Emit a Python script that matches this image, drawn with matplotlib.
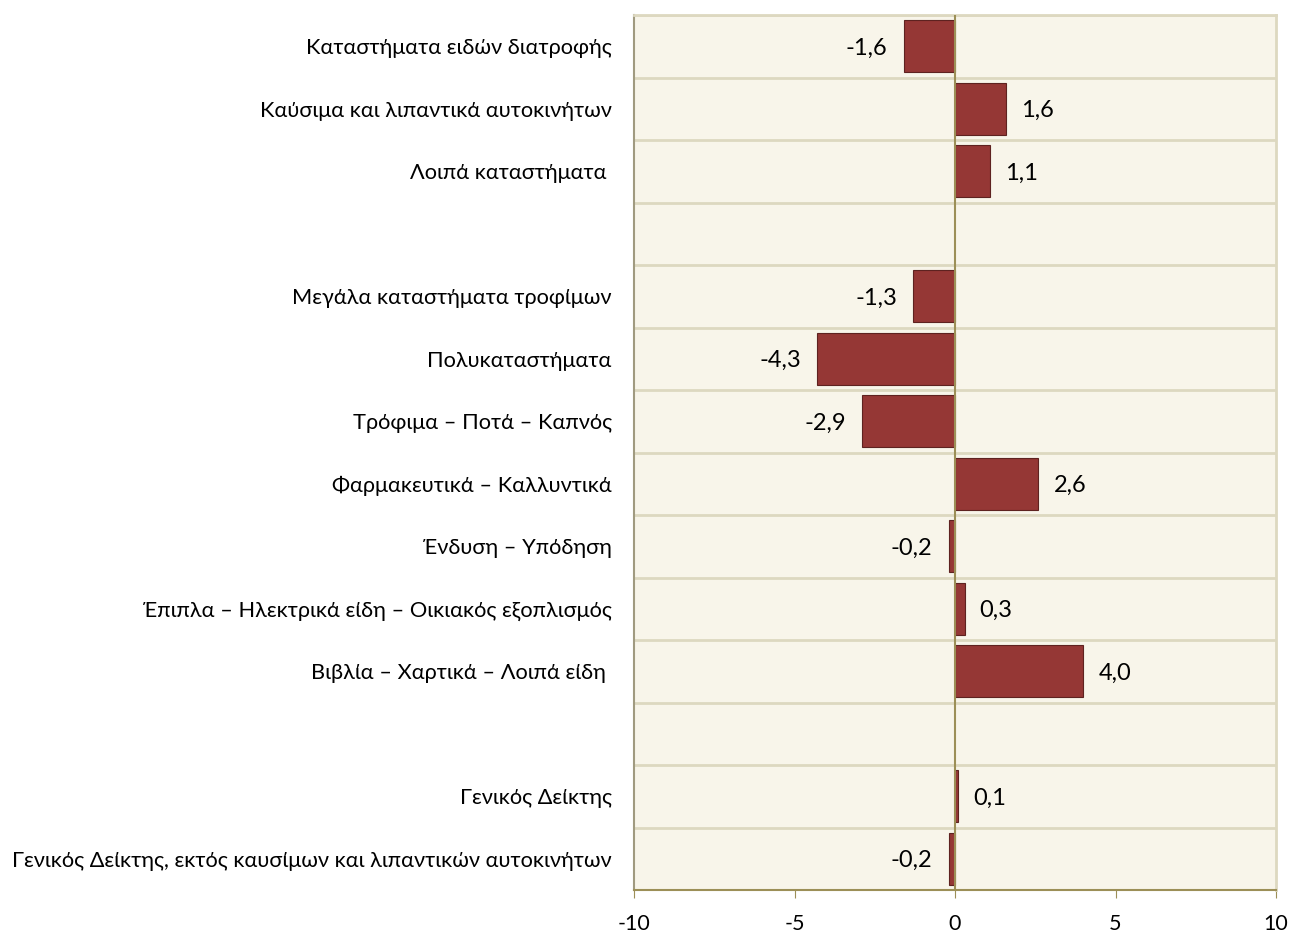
import numpy as np
import matplotlib
matplotlib.use("Agg")
from matplotlib import pyplot as plt

# categories top to bottom (empty strings are spacer rows)
categories = [
    "Καταστήματα ειδών διατροφής",
    "Καύσιμα και λιπαντικά αυτοκινήτων",
    "Λοιπά καταστήματα ",
    "",
    "Μεγάλα καταστήματα τροφίμων",
    "Πολυκαταστήματα",
    "Τρόφιμα – Ποτά – Καπνός",
    "Φαρμακευτικά – Καλλυντικά",
    "Ένδυση – Υπόδηση",
    "Έπιπλα – Ηλεκτρικά είδη – Οικιακός εξοπλισμός",
    "Βιβλία – Χαρτικά – Λοιπά είδη ",
    "",
    "Γενικός Δείκτης",
    "Γενικός Δείκτης, εκτός καυσίμων και λιπαντικών αυτοκινήτων",
]
values = [-1.6, 1.6, 1.1, None, -1.3, -4.3, -2.9, 2.6, -0.2, 0.3, 4.0, None, 0.1, -0.2]
xticks = [-10, -5, 0, 5, 10]

plt.rcParams['font.family'] = ['Lato', 'DejaVu Sans']

fig = plt.figure(figsize=(12.9, 9.36), dpi=100)
ax = fig.add_axes([634/1290, 1 - 890/936, (1276 - 634)/1290, (890 - 15)/936])
ax.set_facecolor('#F8F5EA')

y = np.arange(len(categories))
vals = np.array([v if v is not None else 0 for v in values])
mask = np.array([v is not None for v in values])

ax.barh(y[mask], vals[mask], height=0.83, color='#953735', edgecolor='#5E2220',
        linewidth=0.8, zorder=3)

for yi, v in zip(y[mask], vals[mask]):
    txt = ("%.1f" % v).replace('.', ',')
    if v < 0:
        ax.text(v - 0.5, yi + 0.03, txt, ha='right', va='center', fontsize=17, color='black', zorder=4)
    else:
        ax.text(v + 0.47, yi + 0.03, txt, ha='left', va='center', fontsize=17, color='black', zorder=4)

ax.set_xlim(-10, 10)
ax.set_ylim(len(categories) - 0.5, -0.5)

# horizontal separators between rows
for b in np.arange(-0.5, len(categories), 1.0):
    ax.axhline(b, color='#DDD8C0', linewidth=2, zorder=1)

ax.axvline(0, color='#9C8F57', linewidth=1.5, zorder=5)

ax.set_yticks(y)
ax.set_yticklabels(categories, fontsize=15.7)
ax.tick_params(axis='y', length=0, pad=16)
ax.set_xticks(xticks)
ax.set_xticklabels([str(t) for t in xticks], fontsize=15.5)
ax.tick_params(axis='x', length=6, color='#9C8F57', pad=11)

ax.spines['left'].set_color('#A09A80')
ax.spines['left'].set_linewidth(1.5)
ax.spines['bottom'].set_color('#9C8F57')
ax.spines['bottom'].set_linewidth(1.5)
ax.spines['top'].set_color('#DDD8C0')
ax.spines['top'].set_linewidth(2)
ax.spines['right'].set_color('#DDD8C0')
ax.spines['right'].set_linewidth(2)

fig.savefig("out.png", dpi=100)
